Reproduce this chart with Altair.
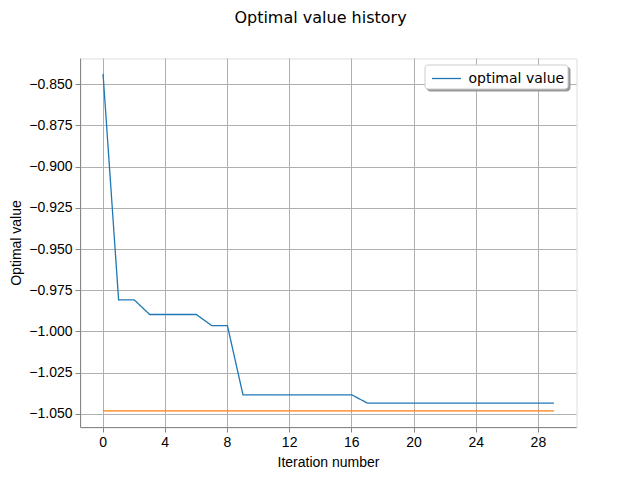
import altair as alt
import pandas as pd

iterations = list(range(30))
optimal_value = [-0.8435, -0.9805, -0.9805, -0.9894, -0.9894, -0.9894, -0.9894,
                 -0.9962, -0.9962] + [-1.0381] * 8 + [-1.0431] * 13
reference_value = [-1.0478] * 30

df = pd.DataFrame({"iter": iterations, "opt": optimal_value,
                   "ref": reference_value, "series": "optimal value",
                   "shadow": "optimal value"})

FONT = "DejaVu Sans"
GRID = "#b0b0b0"
xscale = alt.Scale(domain=[-1.45, 30.45], nice=False, zero=False)
yscale = alt.Scale(domain=[-1.0579, -0.8342], nice=False, zero=False)

xaxis = alt.Axis(values=list(range(0, 29, 4)), title="Iteration number", grid=True,
                 gridColor=GRID, labelFontSize=14, titleFontSize=14, titleFontWeight="normal",
                 titlePadding=6, labelPadding=3, translate=0)
yaxis = alt.Axis(values=[-0.850 - 0.025 * i for i in range(9)], format=".3f",
                 title="Optimal value", grid=True, gridColor=GRID, labelFontSize=14,
                 titleFontSize=14, titleFontWeight="normal", titlePadding=5,
                 labelPadding=3, translate=0)

LEG = dict(title=None, orient="none", symbolType="M-1.45,0H1.45", symbolSize=400,
           symbolStrokeWidth=1.3, labelFontSize=14, labelFont=FONT,
           cornerRadius=3, padding=3, symbolOffset=8)

blue = alt.Chart(df).mark_line(strokeWidth=1.3, color="#1f77b4").encode(
    x=alt.X("iter:Q", scale=xscale, axis=xaxis),
    y=alt.Y("opt:Q", scale=yscale, axis=yaxis),
    strokeDash=alt.StrokeDash("shadow:N", scale=alt.Scale(domain=["optimal value"], range=[[1, 0]]),
                              legend=alt.Legend(legendX=346, legendY=8, fillColor="#999999",
                                                strokeColor="#999999", labelExpr="''",
                                                labelOffset=107,
                                                symbolStrokeColor="transparent",
                                                symbolOpacity=0, **LEG)),
    opacity=alt.Opacity("series:N", scale=alt.Scale(range=[1]),
                        legend=alt.Legend(legendX=344, legendY=6, fillColor="white",
                                          strokeColor="#cccccc", labelColor="black",
                                          labelOffset=11,
                                          symbolStrokeColor="#1f77b4", **LEG)),
)
orange = alt.Chart(df).mark_line(strokeWidth=1.3, color="#ff7f0e").encode(
    x=alt.X("iter:Q", scale=xscale),
    y=alt.Y("ref:Q", scale=yscale),
)

chart = alt.layer(blue, orange).properties(
    width=496, height=369,
    title=alt.TitleParams("Optimal value history", fontSize=16, font=FONT,
                          fontWeight="normal", anchor="middle", dx=-8, offset=33,
                          color="black"),
    autosize=alt.AutoSizeParams(type="none"),
    padding={"left": 72.5, "top": 50.5, "right": 55.5, "bottom": 44.5},
).configure_view(stroke="black", strokeWidth=1).configure_axis(
    labelFont=FONT, titleFont=FONT, gridWidth=0.8,
    domain=True, domainColor="black", tickColor="black", tickSize=5,
    labelColor="black", titleColor="black",
).configure(background="white")

chart.save("out.html", embed_options={"renderer": "svg", "actions": False})
